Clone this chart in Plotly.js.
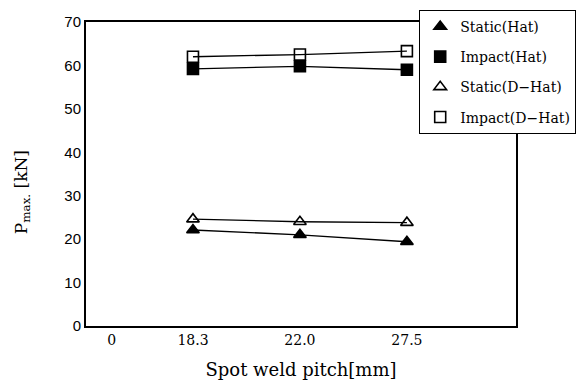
<!DOCTYPE html>
<html>
<head>
<meta charset="utf-8">
<script src="https://cdn.plot.ly/plotly-3.0.1.min.js"></script>
<style>html,body{margin:0;padding:0;background:#fff;}#chart{width:581px;height:383px;}</style>
</head>
<body>
<div id="chart"></div>
<script>
// Data
const pitchLabels = ['18.3', '22.0', '27.5'];
const tickLabels = ['0', '18.3', '22.0', '27.5'];
const staticHat = [22.1, 21.0, 19.4];
const impactHat = [59.2, 59.8, 59.0];
const staticDHat = [24.6, 24.0, 23.8];
const impactDHat = [62.0, 62.5, 63.3];
const seriesNames = ['Static(Hat)', 'Impact(Hat)', 'Static(D−Hat)', 'Impact(D−Hat)'];

// pitch categories are drawn equally spaced (index positions 1..3); "0" sits near the origin
const xPos = pitchLabels.map((_, i) => i + 1);
const tickPos = [0.24].concat(xPos);

const series = [
  {y: staticHat, symbol: 'triangle-up'},
  {y: impactHat, symbol: 'square'},
  {y: staticDHat, symbol: 'triangle-up-open'},
  {y: impactDHat, symbol: 'square-open'}
];

const traces = [];
series.forEach((s) => {
  traces.push({
    x: xPos, y: s.y, mode: 'lines', showlegend: false,
    line: {color: '#000', width: 1.3}, hoverinfo: 'skip'
  });
});
series.forEach((s, i) => {
  traces.push({
    x: xPos, y: s.y, mode: 'markers', name: seriesNames[i],
    legendgroup: 'g' + i,
    marker: {symbol: s.symbol, size: 11, color: '#000', line: {color: '#000', width: 1.6}}
  });
});

const serif = '"DejaVu Serif", "Liberation Serif", serif';
const layout = {
  width: 581, height: 383,
  margin: {l: 86, r: 65, t: 22, b: 57, autoexpand: false},
  paper_bgcolor: '#fff', plot_bgcolor: '#fff',
  font: {family: serif, size: 14, color: '#000'},
  xaxis: {
    range: [0, 4.02], tickvals: tickPos, ticktext: tickLabels,
    showgrid: false, zeroline: false, showline: true, linecolor: '#000', linewidth: 2,
    mirror: true, ticks: '', tickfont: {size: 14, family: serif},
    title: {text: 'Spot weld pitch[mm]', font: {size: 18, family: serif}, standoff: 17}
  },
  yaxis: {
    range: [0, 70], tickvals: [0, 10, 20, 30, 40, 50, 60, 70],
    showgrid: false, zeroline: false, showline: true, linecolor: '#000', linewidth: 2,
    mirror: true, ticks: '', tickfont: {size: 15, family: '"Liberation Sans", Arial, sans-serif'}
  },
  annotations: [{
    text: 'P<sub>max.</sub> [kN]', xref: 'paper', yref: 'paper',
    x: -0.149, y: 0.44, xanchor: 'center', yanchor: 'middle', textangle: -90,
    showarrow: false, font: {size: 17, family: serif}
  }],
  legend: {
    x: 1.14, y: 1.04, xanchor: 'right', yanchor: 'top',
    bgcolor: '#fff', bordercolor: '#000', borderwidth: 1,
    font: {size: 14, family: serif}, tracegroupgap: 9, itemwidth: 30
  }
};

Plotly.newPlot('chart', traces, layout, {staticPlot: true});
</script>
</body>
</html>
